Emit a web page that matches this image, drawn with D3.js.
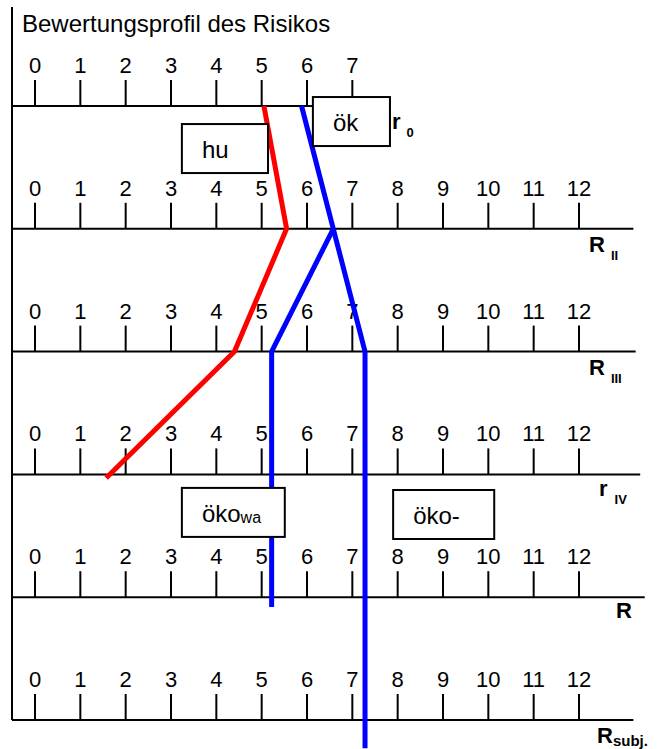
<!DOCTYPE html>
<html>
<head>
<meta charset="utf-8">
<script src="https://cdn.jsdelivr.net/npm/d3@7"></script>
<style>
  body { margin: 0; background: #fff; }
  text { font-family: "Liberation Sans", Arial, sans-serif; fill: #000; }
</style>
</head>
<body>
<div id="chart"></div>
<script>
// scale rows (top to bottom)
var rowNames = ["r", "R", "R", "r", "R", "R"];
var rowSubs = ["0", "II", "III", "IV", "", "subj."];
var rowTickMax = [7, 12, 12, 12, 12, 12];

// profile lines: level = row index, value = position on the scale
var huLevels = [0, 1, 2, 3.03];
var huValues = [5.05, 5.55, 4.4, 1.57];
var okLevels = [0, 1, 2];
var okValues = [5.88, 6.58, 7.28];
var okoWaLevels = [1, 2, 4.08];
var okoWaValues = [6.58, 5.22, 5.22];
var okoMinusLevels = [2, 5.23];
var okoMinusValues = [7.28, 7.28];

var title = "Bewertungsprofil des Risikos";

var width = 658, height = 749;

var svg = d3.select("#chart").append("svg")
    .attr("width", width)
    .attr("height", height);

var x = d3.scaleLinear().domain([0, 12]).range([35, 579]);
var y = d3.scaleLinear().domain([0, 5]).range([106, 720]);

// left border line
svg.append("line")
    .attr("x1", 12).attr("x2", 12)
    .attr("y1", 7).attr("y2", y(5))
    .attr("stroke", "#000").attr("stroke-width", 2);

svg.append("text")
    .attr("x", 22).attr("y", 32)
    .style("font-size", "24px")
    .text(title);

// axis ends (scale units) for each row
var axisEnd = [7.5, 13.2, 13.25, 13.35, 13.45, 13.2];

rowNames.forEach(function(name, i){
    var g = svg.append("g").attr("class", "row");
    var yy = y(i);
    g.append("line")
        .attr("x1", 12).attr("x2", x(axisEnd[i]))
        .attr("y1", yy).attr("y2", yy)
        .attr("stroke", "#000").attr("stroke-width", 2);

    var ticks = d3.range(0, rowTickMax[i] + 1);
    g.selectAll(".tick").data(ticks).enter().append("line")
        .attr("x1", function(d){ return x(d); })
        .attr("x2", function(d){ return x(d); })
        .attr("y1", yy - 26).attr("y2", yy)
        .attr("stroke", "#000").attr("stroke-width", 2);

    g.selectAll(".lbl").data(ticks).enter().append("text")
        .attr("x", function(d){ return x(d); })
        .attr("y", yy - 33)
        .attr("text-anchor", "middle")
        .style("font-size", "22px")
        .text(function(d){ return d; });
});

// row names
var nameX = [392, 589, 589, 599, 616, 597];
var nameDy = [23, 23, 23, 22, 21, 23];
rowNames.forEach(function(name, i){
    var t = svg.append("text")
        .attr("x", nameX[i])
        .attr("y", y(i) + nameDy[i])
        .style("font-size", "22px")
        .style("font-weight", "bold")
        .text(name);
    if (rowSubs[i]) {
        var gap = (i == 5) ? 0 : (i == 3 ? 7 : 6);
        t.append("tspan")
            .attr("dx", gap)
            .attr("dy", i == 5 ? 3 : 8)
            .style("font-size", i == 5 ? "15px" : "13px")
            .text(rowSubs[i]);
    }
});

var line = d3.line()
    .x(function(d){ return x(d.v); })
    .y(function(d){ return y(d.l); });

function pts(levels, values){
    return levels.map(function(l, k){ return {l: l, v: values[k]}; });
}

var series = [
    {pts: pts(huLevels, huValues), color: "#ff0000"},
    {pts: pts(okLevels, okValues), color: "#0000ff"},
    {pts: pts(okoWaLevels, okoWaValues), color: "#0000ff"},
    {pts: pts(okoMinusLevels, okoMinusValues), color: "#0000ff"}
];

svg.selectAll(".profile").data(series).enter().append("path")
    .attr("class", "profile")
    .attr("d", function(d){ return line(d.pts); })
    .attr("fill", "none")
    .attr("stroke", function(d){ return d.color; })
    .attr("stroke-width", 5);

// label boxes: x0/x1 in scale units, top in level units
var boxes = [
    {text: "hu", sub: "", x0: 3.24, x1: 5.14, top: 0.147},
    {text: "ök", sub: "", x0: 6.13, x1: 7.83, top: -0.073},
    {text: "öko", sub: "wa", x0: 3.24, x1: 5.51, top: 3.11},
    {text: "öko-", sub: "", x0: 7.9, x1: 10.13, top: 3.127}
];

var bx = svg.selectAll(".box").data(boxes).enter().append("g").attr("class", "box");
bx.append("rect")
    .attr("x", function(d){ return x(d.x0); })
    .attr("y", function(d){ return y(d.top); })
    .attr("width", function(d){ return x(d.x1) - x(d.x0); })
    .attr("height", 49)
    .attr("fill", "#fff")
    .attr("stroke", "#000").attr("stroke-width", 2);
var bt = bx.append("text")
    .attr("x", function(d){ return x(d.x0) + 20; })
    .attr("y", function(d){ return y(d.top) + 34; })
    .style("font-size", "24px")
    .text(function(d){ return d.text; });
bt.filter(function(d){ return d.sub; }).append("tspan")
    .attr("dy", 1)
    .style("font-size", "16px")
    .text(function(d){ return d.sub; });
</script>
</body>
</html>
